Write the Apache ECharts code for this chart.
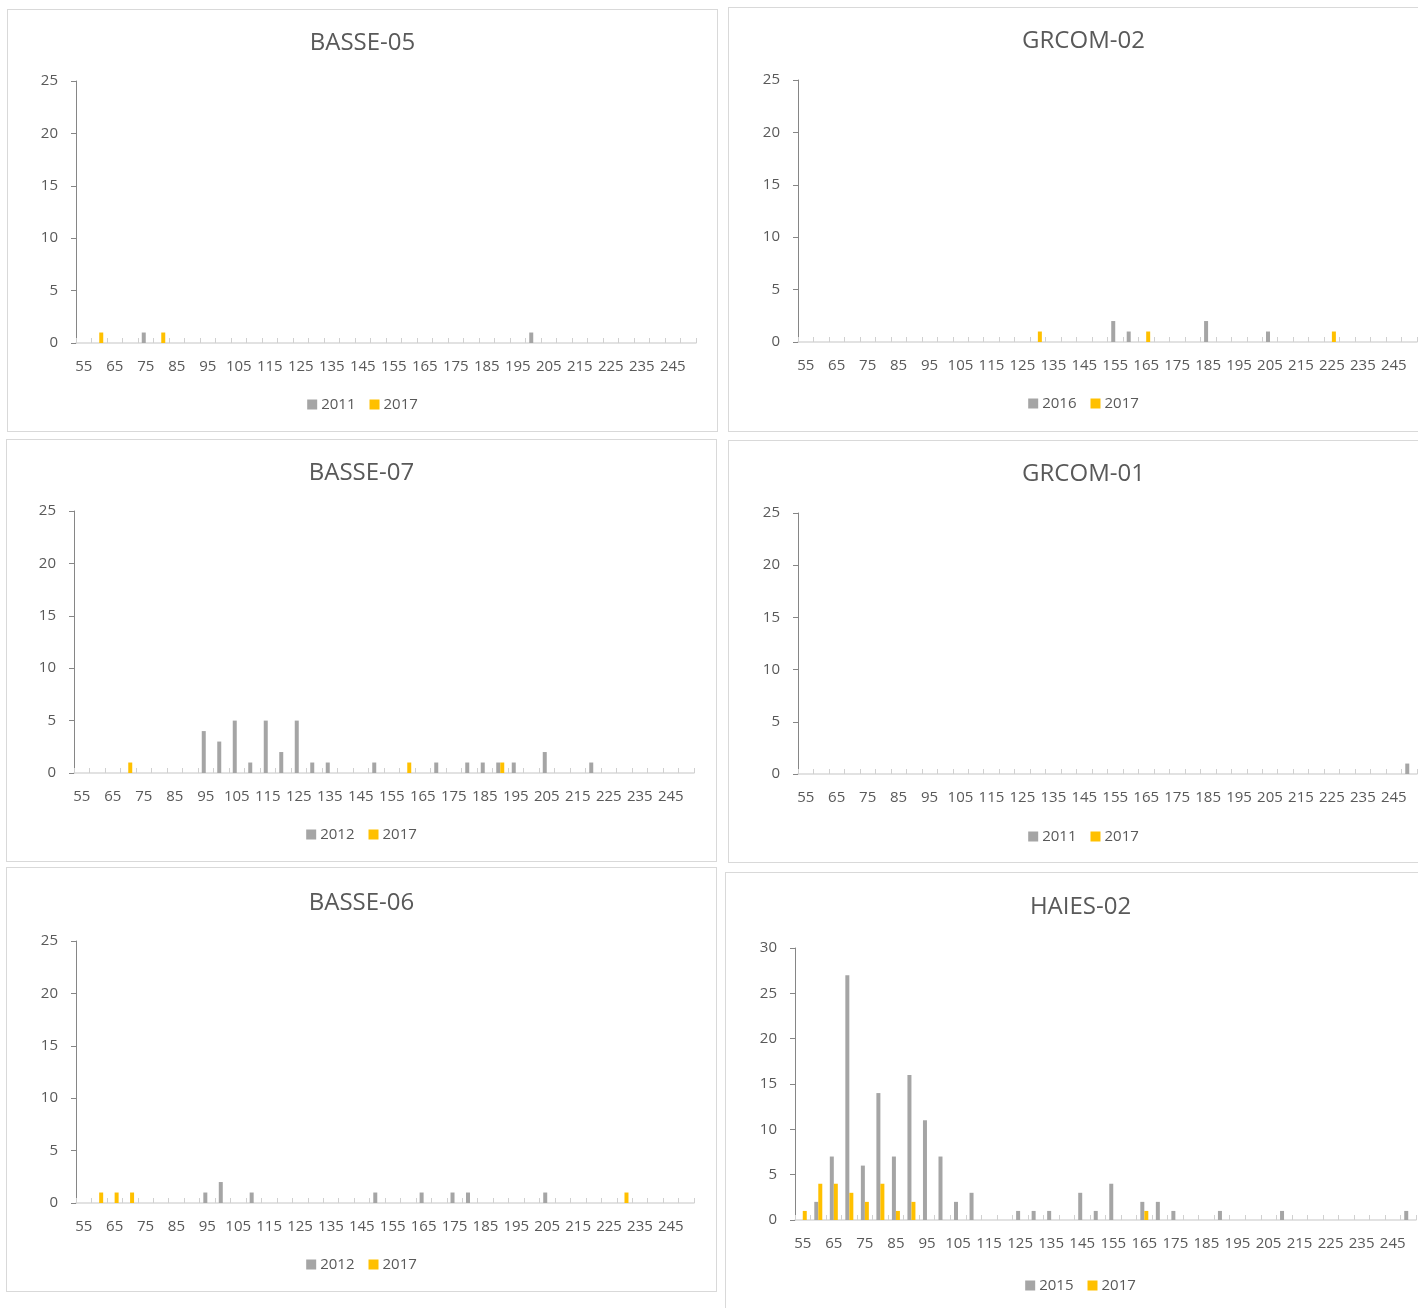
<!DOCTYPE html>
<html><head><meta charset="utf-8">
<script src="https://cdn.jsdelivr.net/npm/echarts@6/dist/echarts.min.js"></script>
<style>
html,body{margin:0;padding:0;background:#fff;}
body{width:1418px;height:1308px;overflow:hidden;position:relative;}
.p{position:absolute;border:1px solid #d9d9d9;box-sizing:border-box;background:#fff;}
</style></head><body>
<script>
// ---- data ----
const categories = ['55','60','65','70','75','80','85','90','95','100','105','110','115','120','125','130','135','140','145','150','155','160','165','170','175','180','185','190','195','200','205','210','215','220','225','230','235','240','245','250'];

// BASSE-05
const basse05_2011 = [0,0,0,0,1,0,0,0,0,0, 0,0,0,0,0,0,0,0,0,0, 0,0,0,0,0,0,0,0,0,1, 0,0,0,0,0,0,0,0,0,0];
const basse05_2017 = [0,1,0,0,0,1,0,0,0,0, 0,0,0,0,0,0,0,0,0,0, 0,0,0,0,0,0,0,0,0,0, 0,0,0,0,0,0,0,0,0,0];
// GRCOM-02
const grcom02_2016 = [0,0,0,0,0,0,0,0,0,0, 0,0,0,0,0,0,0,0,0,0, 2,1,0,0,0,0,2,0,0,0, 1,0,0,0,0,0,0,0,0,0];
const grcom02_2017 = [0,0,0,0,0,0,0,0,0,0, 0,0,0,0,0,1,0,0,0,0, 0,0,1,0,0,0,0,0,0,0, 0,0,0,0,1,0,0,0,0,0];
// BASSE-07
const basse07_2012 = [0,0,0,0,0,0,0,0,4,3, 5,1,5,2,5,1,1,0,0,1, 0,0,0,1,0,1,1,1,1,0, 2,0,0,1,0,0,0,0,0,0];
const basse07_2017 = [0,0,0,1,0,0,0,0,0,0, 0,0,0,0,0,0,0,0,0,0, 0,1,0,0,0,0,0,1,0,0, 0,0,0,0,0,0,0,0,0,0];
// GRCOM-01
const grcom01_2011 = [0,0,0,0,0,0,0,0,0,0, 0,0,0,0,0,0,0,0,0,0, 0,0,0,0,0,0,0,0,0,0, 0,0,0,0,0,0,0,0,0,1];
const grcom01_2017 = [0,0,0,0,0,0,0,0,0,0, 0,0,0,0,0,0,0,0,0,0, 0,0,0,0,0,0,0,0,0,0, 0,0,0,0,0,0,0,0,0,0];
// BASSE-06
const basse06_2012 = [0,0,0,0,0,0,0,0,1,2, 0,1,0,0,0,0,0,0,0,1, 0,0,1,0,1,1,0,0,0,0, 1,0,0,0,0,0,0,0,0,0];
const basse06_2017 = [0,1,1,1,0,0,0,0,0,0, 0,0,0,0,0,0,0,0,0,0, 0,0,0,0,0,0,0,0,0,0, 0,0,0,0,0,1,0,0,0,0];
// HAIES-02
const haies02_2015 = [0,2,7,27,6,14,7,16,11,7, 2,3,0,0,1,1,1,0,3,1, 4,0,2,2,1,0,0,1,0,0, 0,1,0,0,0,0,0,0,0,1];
const haies02_2017 = [1,4,4,3,2,4,1,2,0,0, 0,0,0,0,0,0,0,0,0,0, 0,0,1,0,0,0,0,0,0,0, 0,0,0,0,0,0,0,0,0,0];

const yTicksMax = { std: 25, haies: 30 };

const panels = [
  {title:'BASSE-05', names:['2011','2017'], a:basse05_2011, b:basse05_2017, ymax:yTicksMax.std},
  {title:'GRCOM-02', names:['2016','2017'], a:grcom02_2016, b:grcom02_2017, ymax:yTicksMax.std},
  {title:'BASSE-07', names:['2012','2017'], a:basse07_2012, b:basse07_2017, ymax:yTicksMax.std},
  {title:'GRCOM-01', names:['2011','2017'], a:grcom01_2011, b:grcom01_2017, ymax:yTicksMax.std},
  {title:'BASSE-06', names:['2012','2017'], a:basse06_2012, b:basse06_2017, ymax:yTicksMax.std},
  {title:'HAIES-02', names:['2015','2017'], a:haies02_2015, b:haies02_2017, ymax:yTicksMax.haies}
];

// ---- layout (kept separate from data) ----
const layout = [
  {left:7,  top:9,   w:711, h:423, gl:68, gt:71, gw:620, gh:262, tt:16, lt:382},
  {left:728,top:7,   w:711, h:425, gl:69, gt:72, gw:619, gh:262, tt:16, lt:383},
  {left:6,  top:439, w:711, h:423, gl:67, gt:71, gw:620, gh:262, tt:16, lt:382},
  {left:728,top:440, w:711, h:423, gl:69, gt:72, gw:619, gh:261, tt:16, lt:383},
  {left:6,  top:867, w:711, h:425, gl:69, gt:73, gw:618, gh:262, tt:18, lt:384},
  {left:725,top:872, w:711, h:440, gl:69, gt:75, gw:621, gh:272, tt:17, lt:400}
];

const FONT = 'Open Sans';
const TXT = '#595959';
const GRAY = '#a5a5a5';
const YEL = '#ffc000';

panels.forEach((p, i) => {
  const L = layout[i];
  const div = document.createElement('div');
  div.className = 'p';
  div.style.left = L.left + 'px';
  div.style.top = L.top + 'px';
  div.style.width = L.w + 'px';
  div.style.height = L.h + 'px';
  document.body.appendChild(div);
  const chart = echarts.init(div, null, {renderer:'canvas', width:L.w-2, height:L.h-2});
  chart.setOption({
    animation:false,
    textStyle:{fontFamily:FONT},
    title:{text:p.title, left:'center', top:L.tt,
      textStyle:{fontFamily:FONT, fontSize:24, fontWeight:'normal', color:TXT}},
    legend:{data:p.names, left:'center', top:L.lt, icon:'rect', itemWidth:10, itemHeight:10, itemGap:14,
      textStyle:{fontFamily:FONT, fontSize:15, color:TXT, padding:[0,0,0,-1]}},
    grid:{left:L.gl, top:L.gt, width:L.gw, height:L.gh, containLabel:false},
    xAxis:{type:'category', data:categories, boundaryGap:true,
      axisLine:{lineStyle:{color:'#d9d9d9', width:1.5}},
      axisTick:{show:true, interval:0, inside:true, length:5, lineStyle:{color:'#d0d0d0', width:1}},
      axisLabel:{interval:1, margin:16, fontFamily:FONT, fontSize:15, color:TXT},
      splitLine:{show:false}},
    yAxis:{type:'value', min:0, max:p.ymax, interval:5,
      axisLine:{show:true, lineStyle:{color:'#868686', width:1}},
      axisTick:{show:true, length:5, lineStyle:{color:'#868686'}},
      axisLabel:{margin:18, fontFamily:FONT, fontSize:15, color:TXT},
      splitLine:{show:false}},
    series:[
      {name:p.names[0], type:'bar', data:p.a, barWidth:4, barGap:'0%', itemStyle:{color:GRAY}},
      {name:p.names[1], type:'bar', data:p.b, barWidth:4, barGap:'0%', itemStyle:{color:YEL}}
    ]
  });
});
</script>
</body></html>
